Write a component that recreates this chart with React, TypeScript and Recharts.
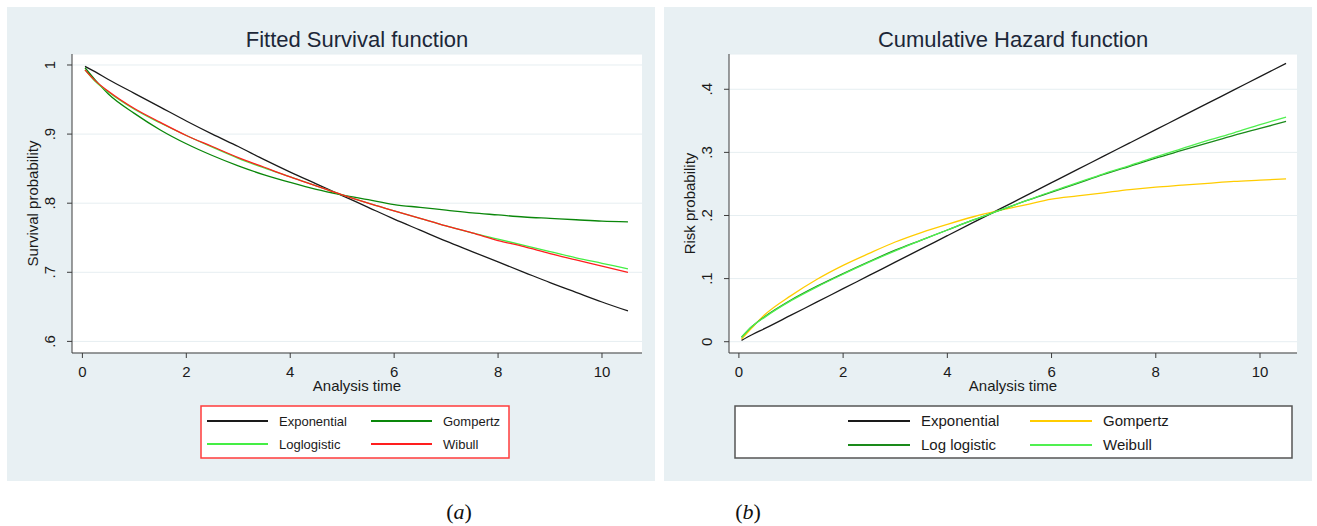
import { CartesianGrid, Line, LineChart, XAxis, YAxis } from "recharts";

const times = [0.05, 0.25, 0.5, 1, 1.5, 2, 2.5, 3, 3.5, 4, 4.5, 5, 5.5, 6, 6.5, 7, 7.5, 8, 8.5, 9, 9.5, 10, 10.5];

// (a) fitted survival
const survExponential = [0.998, 0.99, 0.979, 0.959, 0.939, 0.919, 0.9, 0.882, 0.863, 0.845, 0.828, 0.811, 0.794, 0.777, 0.761, 0.745, 0.73, 0.715, 0.7, 0.685, 0.671, 0.657, 0.644];
const survGompertz = [0.996, 0.978, 0.958, 0.93, 0.906, 0.886, 0.869, 0.854, 0.841, 0.83, 0.82, 0.812, 0.805, 0.798, 0.794, 0.79, 0.786, 0.783, 0.78, 0.778, 0.776, 0.774, 0.773];
const survLoglogistic = [0.993, 0.976, 0.961, 0.936, 0.916, 0.898, 0.881, 0.865, 0.851, 0.838, 0.825, 0.812, 0.8, 0.789, 0.778, 0.767, 0.757, 0.748, 0.739, 0.73, 0.721, 0.713, 0.705];
const survWeibull = [0.993, 0.977, 0.962, 0.937, 0.917, 0.898, 0.882, 0.866, 0.852, 0.838, 0.825, 0.812, 0.8, 0.789, 0.778, 0.767, 0.757, 0.746, 0.737, 0.727, 0.718, 0.709, 0.7];

// (b) cumulative hazard
const hazExponential = [0.002, 0.011, 0.021, 0.042, 0.063, 0.084, 0.105, 0.126, 0.147, 0.168, 0.189, 0.21, 0.231, 0.252, 0.273, 0.294, 0.315, 0.336, 0.357, 0.378, 0.399, 0.42, 0.441];
const hazGompertz = [0.004, 0.022, 0.043, 0.073, 0.099, 0.121, 0.14, 0.158, 0.173, 0.186, 0.198, 0.208, 0.217, 0.226, 0.231, 0.236, 0.241, 0.245, 0.248, 0.251, 0.254, 0.256, 0.258];
const hazLogLogistic = [0.007, 0.024, 0.04, 0.066, 0.088, 0.108, 0.127, 0.145, 0.161, 0.177, 0.193, 0.208, 0.223, 0.237, 0.251, 0.265, 0.278, 0.291, 0.303, 0.315, 0.327, 0.338, 0.349];
const hazWeibull = [0.007, 0.024, 0.039, 0.065, 0.087, 0.107, 0.126, 0.144, 0.161, 0.177, 0.193, 0.208, 0.223, 0.238, 0.252, 0.266, 0.279, 0.293, 0.306, 0.319, 0.331, 0.344, 0.356];

const xTicks = [0, 2, 4, 6, 8, 10];
const survTicks = [0.6, 0.7, 0.8, 0.9, 1];
const hazTicks = [0, 0.1, 0.2, 0.3, 0.4];

const survivalRows = times.map((t, i) => ({
  t,
  exponential: survExponential[i],
  gompertz: survGompertz[i],
  loglogistic: survLoglogistic[i],
  weibull: survWeibull[i],
}));

const hazardRows = times.map((t, i) => ({
  t,
  exponential: hazExponential[i],
  gompertz: hazGompertz[i],
  loglogistic: hazLogLogistic[i],
  weibull: hazWeibull[i],
}));

const FONT = "'Liberation Sans', Arial, sans-serif";
const PANEL_BG = "#e8f0f3";
const GRID = "#e6eef1";
const AXIS = "#3c3c3c";
const TEXT = "#1a1a1a";

const leftSeries = [
  { key: "exponential", name: "Exponential", color: "#1a1a1a" },
  { key: "gompertz", name: "Gompertz", color: "#0a870a" },
  { key: "loglogistic", name: "Loglogistic", color: "#44ee44" },
  { key: "weibull", name: "Wibull", color: "#ff1e1e" },
];

const rightSeries = [
  { key: "exponential", name: "Exponential", color: "#1a1a1a" },
  { key: "gompertz", name: "Gompertz", color: "#ffcc00" },
  { key: "loglogistic", name: "Log logistic", color: "#1a8a1a" },
  { key: "weibull", name: "Weibull", color: "#50f050" },
];

const fmtTick = (v: number) => {
  if (v === 0) return "0";
  if (v === 1) return "1";
  return v.toFixed(1).replace(/^0/, "");
};

const RotatedTick = (props: any) => {
  const { x, y, payload } = props;
  return (
    <text
      transform={`translate(${x - 10},${y}) rotate(-90)`}
      textAnchor="middle"
      fontSize={15}
      fill={TEXT}
      fontFamily={FONT}
    >
      {fmtTick(payload.value)}
    </text>
  );
};

function Panel({
  left,
  data,
  series,
  xDomain,
  yDomain,
  yTicks,
  yLabel,
  rightMargin,
}: {
  left: number;
  data: any[];
  series: { key: string; name: string; color: string }[];
  xDomain: [number, number];
  yDomain: [number, number];
  yTicks: number[];
  yLabel: string;
  rightMargin: number;
}) {
  return (
    <div style={{ position: "absolute", left, top: 7, width: 648, height: 474, background: PANEL_BG }}>
      <LineChart
        width={648}
        height={474}
        data={data}
        margin={{ top: 47, right: rightMargin, bottom: 88, left: 0 }}
      >
        <CartesianGrid vertical={false} stroke={GRID} fill="#ffffff" />
        <XAxis
          dataKey="t"
          type="number"
          domain={xDomain}
          ticks={xTicks}
          allowDataOverflow
          height={40}
          tickSize={5}
          tickMargin={8}
          stroke={AXIS}
          tick={{ fill: TEXT, fontSize: 15, fontFamily: FONT }}
          label={{
            content: ({ viewBox }: any) => (
              <text
                x={viewBox.x + viewBox.width / 2}
                y={viewBox.y + 38}
                textAnchor="middle"
                fontSize={15}
                fill={TEXT}
                fontFamily={FONT}
              >
                Analysis time
              </text>
            ),
          }}
        />
        <YAxis
          type="number"
          domain={yDomain}
          ticks={yTicks}
          allowDataOverflow
          width={65}
          tickSize={5}
          stroke={AXIS}
          tick={<RotatedTick />}
          label={{
            content: ({ viewBox }: any) => (
              <text
                transform={`translate(${viewBox.x + 31},${viewBox.y + viewBox.height / 2}) rotate(-90)`}
                textAnchor="middle"
                fontSize={15}
                fill={TEXT}
                fontFamily={FONT}
              >
                {yLabel}
              </text>
            ),
          }}
        />
        {series.map((s) => (
          <Line
            key={s.key}
            type="monotone"
            dataKey={s.key}
            name={s.name}
            stroke={s.color}
            strokeWidth={1.3}
            dot={false}
            isAnimationActive={false}
          />
        ))}
      </LineChart>
    </div>
  );
}

function LegendBox({
  x,
  y,
  w,
  h,
  border,
  series,
  rows,
  cols,
  lineLen,
  fontSize,
}: {
  x: number;
  y: number;
  w: number;
  h: number;
  border: string;
  series: { name: string; color: string }[];
  rows: number[];
  cols: number[];
  lineLen: number;
  fontSize: number;
}) {
  return (
    <g>
      <rect x={x} y={y} width={w} height={h} fill="#ffffff" stroke={border} strokeWidth={1.5} />
      {series.map((s, i) => {
        const cx = x + cols[i % 2];
        const cy = y + rows[Math.floor(i / 2)];
        return (
          <g key={s.name}>
            <line x1={cx} x2={cx + lineLen} y1={cy} y2={cy} stroke={s.color} strokeWidth={2} />
            <text x={cx + lineLen + 11} y={cy + fontSize * 0.36} fontSize={fontSize} fill={TEXT} fontFamily={FONT}>
              {s.name}
            </text>
          </g>
        );
      })}
    </g>
  );
}

export default function App() {
  return (
    <div style={{ position: "absolute", left: 0, top: 0, width: 1317, height: 526, background: "#ffffff" }}>
      <Panel
        left={7}
        data={survivalRows}
        series={leftSeries}
        xDomain={[-0.2, 10.77]}
        yDomain={[0.5832, 1.0159]}
        yTicks={survTicks}
        yLabel="Survival probability"
        rightMargin={13}
      />
      <Panel
        left={664}
        data={hazardRows}
        series={rightSeries}
        xDomain={[-0.19, 10.71]}
        yDomain={[-0.0179, 0.4559]}
        yTicks={hazTicks}
        yLabel="Risk probability"
        rightMargin={15}
      />
      <svg
        width={1317}
        height={526}
        style={{ position: "absolute", left: 0, top: 0, pointerEvents: "none" }}
      >
        <text x={357} y={47} textAnchor="middle" fontSize={22} fill="#1c2738" fontFamily={FONT}>
          Fitted Survival function
        </text>
        <text x={1013} y={47} textAnchor="middle" fontSize={22} fill="#1c2738" fontFamily={FONT}>
          Cumulative Hazard function
        </text>
        <LegendBox
          x={201}
          y={406}
          w={308}
          h={52}
          border="#ff3b3b"
          series={leftSeries}
          rows={[15, 38]}
          cols={[6, 170]}
          lineLen={61}
          fontSize={13}
        />
        <LegendBox
          x={735}
          y={406}
          w={557}
          h={52}
          border="#555555"
          series={rightSeries}
          rows={[15, 39]}
          cols={[113, 295]}
          lineLen={62}
          fontSize={15}
        />
        <text x={459} y={519} textAnchor="middle" fontSize={22} fill="#111" fontFamily="'Liberation Serif', 'Times New Roman', serif">
          (<tspan fontStyle="italic">a</tspan>)
        </text>
        <text x={748} y={519} textAnchor="middle" fontSize={22} fill="#111" fontFamily="'Liberation Serif', 'Times New Roman', serif">
          (<tspan fontStyle="italic">b</tspan>)
        </text>
      </svg>
    </div>
  );
}
